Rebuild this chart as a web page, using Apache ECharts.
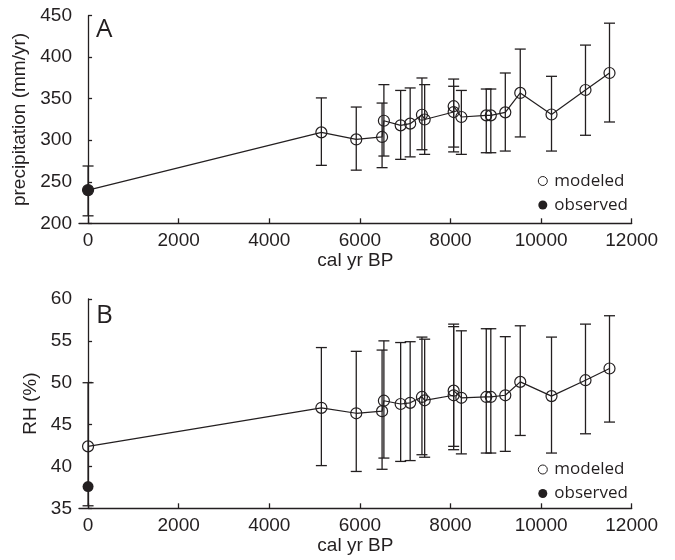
<!DOCTYPE html>
<html><head><meta charset="utf-8">
<script src="https://cdn.jsdelivr.net/npm/echarts@6/dist/echarts.min.js"></script>
<style>html,body{margin:0;padding:0;background:#fff}#c{width:675px;height:560px}</style>
</head><body><div id="c"></div>
<script>
// ---- data ----
const years      = [0, 5150, 5920, 6490, 6530, 6900, 7110, 7370, 7430, 8070, 8070, 8240, 8790, 8890, 9210, 9540, 10230, 10980, 11510];
const precipMod  = [240, 309.5, 301, 304, 323.5, 318, 320, 330.7, 325, 334, 341, 328, 330, 330, 333.6, 357, 331, 360.5, 381];
const precipLow  = [209, 269.8, 264, 267, 281, 277, 280, 288.6, 283, 286, 291.8, 283, 285, 285, 287, 304, 287, 306, 322];
const precipHigh = [269, 351, 340, 344.8, 367, 360, 363, 375, 367, 365, 373.7, 360, 361.7, 361.7, 381, 409.8, 377, 414.6, 441];
const precipObsYear = [0];
const precipObs  = [240];
const rhMod      = [42.4, 47.0, 46.35, 46.6, 47.85, 47.46, 47.6, 48.3, 47.9, 48.5, 49.05, 48.2, 48.3, 48.3, 48.5, 50.1, 48.4, 50.3, 51.7];
const rhLow      = [35.3, 40.1, 39.4, 39.66, 41.0, 40.6, 40.7, 41.4, 41.1, 42.0, 42.4, 41.5, 41.6, 41.6, 41.8, 43.7, 41.6, 43.9, 45.3];
const rhHigh     = [50.0, 54.2, 53.75, 53.9, 55.0, 54.8, 54.9, 55.45, 55.2, 56.7, 57.0, 56.2, 56.45, 56.45, 55.5, 56.8, 55.45, 57.0, 58.0];
const rhObsYear  = [0];
const rhObs      = [37.6];
const xTicks     = [0, 2000, 4000, 6000, 8000, 10000, 12000];
const legendNames = ['modeled', 'observed'];
const panelLabels = ['A', 'B'];

// ---- styling ----
const INK = '#231f20';
const AXFONT = '"Liberation Sans", Arial, Helvetica, sans-serif';
const LGFONT = '"Open Sans", "Noto Sans", sans-serif';

const chart = echarts.init(document.getElementById('c'), null, {renderer: 'canvas'});

function errBar(idx, low, high) {
  return {
    type: 'custom', xAxisIndex: idx, yAxisIndex: idx, z: 2, silent: true,
    data: years.map((y, i) => [y, low[i], high[i]]),
    renderItem(params, api) {
      const x = api.value(0);
      const p1 = api.coord([x, api.value(1)]);
      const p2 = api.coord([x, api.value(2)]);
      const w = 5.5;
      const st = {stroke: INK, lineWidth: 1.3};
      return {type: 'group', children: [
        {type: 'line', shape: {x1: p1[0], y1: p1[1], x2: p2[0], y2: p2[1]}, style: st},
        {type: 'line', shape: {x1: p1[0] - w, y1: p1[1], x2: p1[0] + w, y2: p1[1]}, style: st},
        {type: 'line', shape: {x1: p2[0] - w, y1: p2[1], x2: p2[0] + w, y2: p2[1]}, style: st}
      ]};
    }
  };
}

function xAx(idx) {
  return {
    gridIndex: idx, type: 'value', min: -200, max: 12000,
    axisLine: {show: true, lineStyle: {color: INK, width: 1.3}},
    axisTick: {show: true, inside: true, length: 5, customValues: xTicks, lineStyle: {color: INK, width: 1.3}},
    axisLabel: {customValues: xTicks, color: INK, fontSize: 19, fontFamily: AXFONT, margin: 8,
                formatter: v => String(v)},
    splitLine: {show: false},
    name: 'cal yr BP', nameLocation: 'middle', nameGap: 28,
    nameTextStyle: {color: INK, fontSize: 19, fontFamily: AXFONT}
  };
}
function yAx(idx, min, max, interval, name, gap) {
  return {
    gridIndex: idx, type: 'value', min, max, interval,
    axisLine: {show: true, lineStyle: {color: INK, width: 1.3}},
    axisTick: {show: true, inside: true, length: 4, lineStyle: {color: INK, width: 1.3}},
    axisLabel: {color: INK, fontSize: 19, fontFamily: AXFONT, margin: 7, formatter: v => String(v)},
    splitLine: {show: false},
    name, nameLocation: 'middle', nameGap: gap, nameRotate: 90,
    nameTextStyle: {color: INK, fontSize: 19, fontFamily: AXFONT}
  };
}
function modSeries(idx, vals) {
  return {
    name: legendNames[0], type: 'line', xAxisIndex: idx, yAxisIndex: idx, z: 3,
    data: years.map((y, i) => [y, vals[i]]),
    symbol: 'circle', symbolSize: 11, showAllSymbol: true,
    itemStyle: {color: 'rgba(0,0,0,0)', borderColor: INK, borderWidth: 1.2},
    lineStyle: {color: INK, width: 1.2}, emphasis: {disabled: true}, animation: false
  };
}
function obsSeries(idx, xs, vals) {
  return {
    name: legendNames[1], type: 'scatter', xAxisIndex: idx, yAxisIndex: idx, z: 4,
    data: xs.map((y, i) => [y, vals[i]]),
    symbol: 'circle', symbolSize: 11,
    itemStyle: {color: INK, opacity: 1}, emphasis: {disabled: true}, animation: false
  };
}
function legend(top) {
  return {
    left: 532.8, top, orient: 'vertical', selectedMode: false,
    data: [
      {name: legendNames[0], icon: 'circle', itemStyle: {color: 'rgba(0,0,0,0)', borderColor: INK, borderWidth: 1, opacity: 1}},
      {name: legendNames[1], icon: 'circle', itemStyle: {color: INK, borderWidth: 0, opacity: 1}}
    ],
    itemWidth: 13, itemHeight: 9, itemGap: 7,
    textStyle: {color: INK, fontSize: 17, fontFamily: LGFONT}
  };
}

chart.setOption({
  animation: false,
  backgroundColor: '#fff',
  grid: [
    {left: 79, top: 15.7, width: 552.7, height: 207.6},
    {left: 79, top: 299, width: 552.7, height: 209.3}
  ],
  xAxis: [xAx(0), xAx(1)],
  yAxis: [yAx(0, 200, 450, 50, 'precipitation (mm/yr)', 41), yAx(1, 35, 60, 5, 'RH (%)', 34)],
  legend: [legend(167.5), legend(456)],
  graphic: [
    {type: 'text', left: 96, top: 17, style: {text: panelLabels[0], font: '26px "Open Sans"', fill: INK}},
    {type: 'text', left: 96, top: 303, style: {text: panelLabels[1], font: '26px "Open Sans"', fill: INK}}
  ],
  series: [
    errBar(0, precipLow, precipHigh),
    modSeries(0, precipMod),
    obsSeries(0, precipObsYear, precipObs),
    errBar(1, rhLow, rhHigh),
    modSeries(1, rhMod),
    obsSeries(1, rhObsYear, rhObs)
  ]
});
</script>
</body></html>
